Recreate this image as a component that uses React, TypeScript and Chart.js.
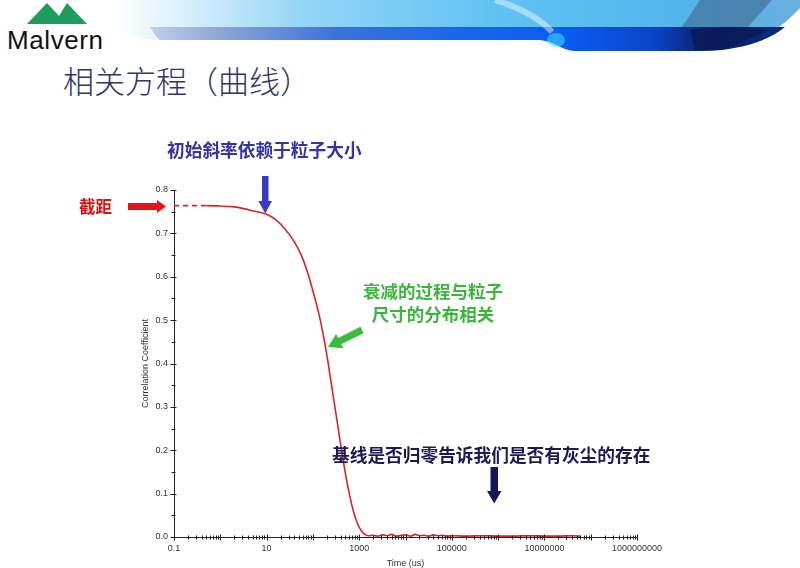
import React, { useEffect, useRef } from 'react';
import { Chart, registerables } from 'chart.js';

Chart.register(...registerables);

// ---- data ----
const timeUs = [
  0.1, 0.2, 0.3, 0.5,
  1, 2, 3.2, 5,
  10, 16, 25, 40, 56, 80,
  100, 126, 158, 200, 251, 316, 398, 501, 631, 794,
  1000, 1259, 1585, 2000, 2500, 3200, 4000, 5000, 6300, 8000,
  10000, 13000, 16000, 20000, 25000, 32000, 40000, 50000, 63000, 80000,
  1e5, 2e5, 5e5, 1e6, 2e6, 5e6, 1e7, 2e7, 4e7, 6e7,
];
const correlation = [
  0.764, 0.764, 0.764, 0.764,
  0.763, 0.761, 0.757, 0.752,
  0.744, 0.731, 0.71, 0.68, 0.65, 0.604,
  0.567, 0.527, 0.48, 0.42, 0.352, 0.283, 0.213, 0.148, 0.093, 0.05,
  0.022, 0.008, 0.003, 0.004, 0.002, 0.005, 0.003, 0.006, 0.002, 0.004,
  0.005, 0.002, 0.006, 0.003, 0.004, 0.002, 0.005, 0.003, 0.004, 0.002,
  0.003, 0.002, 0.003, 0.002, 0.002, 0.003, 0.002, 0.002, 0.003, 0.002,
];
const dashedUntilUs = 0.5;

const xLabelValues = [0.1, 10, 1000, 100000, 10000000, 1000000000];
const xTickLabels = ['0.1', '10', '1000', '100000', '10000000', '1000000000'];
const yLabelValues = [0, 0.1, 0.2, 0.3, 0.4, 0.5, 0.6, 0.7, 0.8];
const yTickLabels = ['0.0', '0.1', '0.2', '0.3', '0.4', '0.5', '0.6', '0.7', '0.8'];

const xTitle = 'Time (us)';
const yTitle = 'Correlation Coefficient';

const AXIS_FONT = '"Liberation Sans", Arial, sans-serif';
const CJK = '"Noto Sans CJK SC", sans-serif';

const isDecade = (v: number) => Math.abs(Math.log10(v) - Math.round(Math.log10(v))) < 1e-6;
const isTenth = (v: number) => Math.abs(v * 10 - Math.round(v * 10)) < 1e-6;

const crossTicks = {
  id: 'crossTicks',
  afterDraw(chart: any) {
    const { ctx } = chart;
    const x = chart.scales.x;
    const y = chart.scales.y;
    ctx.save();
    ctx.strokeStyle = '#222';
    ctx.lineWidth = 1;
    ctx.beginPath();
    const x0 = Math.round(x.top) + 0.5;
    x.ticks.forEach((t: any) => {
      const px = Math.round(x.getPixelForValue(t.value)) + 0.5;
      const len = isDecade(t.value) ? 3 : 2;
      ctx.moveTo(px, x0 - len);
      ctx.lineTo(px, x0 + len);
    });
    const y0 = Math.round(y.right) - 0.5;
    y.ticks.forEach((t: any) => {
      const py = Math.round(y.getPixelForValue(t.value)) + 0.5;
      const len = isTenth(t.value) ? 3 : 2;
      ctx.moveTo(y0 - len, py);
      ctx.lineTo(y0 + len, py);
    });
    ctx.stroke();
    ctx.restore();
  },
};

export default function App() {
  const ref = useRef<HTMLCanvasElement>(null);

  useEffect(() => {
    const canvas = ref.current;
    if (!canvas) return;
    const chart = new Chart(canvas, {
      type: 'line',
      data: {
        datasets: [
          {
            data: timeUs.map((t, i) => ({ x: t, y: correlation[i] })),
            borderColor: '#e22222',
            borderWidth: 1.6,
            pointRadius: 0,
            fill: false,
            cubicInterpolationMode: 'monotone',
            segment: {
              borderDash: (ctx: any) => (ctx.p1.parsed.x <= dashedUntilUs ? [5, 4] : undefined),
            },
          } as any,
        ],
      },
      options: {
        responsive: false,
        animation: false,
        events: [],
        layout: { padding: { left: 140, right: 163, top: 190, bottom: 0 } },
        plugins: { legend: { display: false }, tooltip: { enabled: false } },
        scales: {
          x: {
            type: 'logarithmic',
            min: 0.1,
            max: 1e9,
            afterBuildTicks: (s: any) => {
              const ticks: any[] = [];
              for (let e = -1; e <= 8; e++) {
                for (let k = 1; k <= 9; k++) ticks.push({ value: k * Math.pow(10, e) });
              }
              ticks.push({ value: 1e9 });
              s.ticks = ticks;
            },
            afterFit: (s: any) => {
              s.height = 31;
            },
            grid: { display: false, drawTicks: false },
            border: { display: true, color: '#222', width: 1 },
            ticks: {
              autoSkip: false,
              maxRotation: 0,
              padding: 6,
              color: '#333',
              font: { family: AXIS_FONT, size: 9 },
              callback: (v: any) => {
                const i = xLabelValues.findIndex((l) => Math.abs(l - v) / l < 1e-6);
                return i >= 0 ? xTickLabels[i] : '';
              },
            },
            title: {
              display: true,
              text: xTitle,
              color: '#333',
              font: { family: AXIS_FONT, size: 9 },
              padding: { top: 0, bottom: -1 },
            },
          },
          y: {
            type: 'linear',
            min: 0,
            max: 0.8,
            afterBuildTicks: (s: any) => {
              const ticks: any[] = [];
              for (let i = 0; i <= 16; i++) ticks.push({ value: i * 0.05 });
              s.ticks = ticks;
            },
            afterFit: (s: any) => {
              s.width = 34;
            },
            grid: { display: false, drawTicks: false },
            border: { display: true, color: '#222', width: 1 },
            ticks: {
              autoSkip: false,
              padding: 6,
              color: '#333',
              font: { family: AXIS_FONT, size: 9 },
              callback: (v: any) => {
                const i = yLabelValues.findIndex((l) => Math.abs(l - v) < 1e-6);
                return i >= 0 ? yTickLabels[i] : '';
              },
            },
            title: {
              display: true,
              text: yTitle,
              color: '#333',
              font: { family: AXIS_FONT, size: 9 },
              padding: 0,
            },
          },
        },
      } as any,
      plugins: [crossTicks],
    });
    return () => chart.destroy();
  }, []);

  const abs = (o: any) => ({ position: 'absolute', whiteSpace: 'nowrap', lineHeight: 1, ...o }) as React.CSSProperties;

  return (
    <div style={{ position: 'fixed', left: 0, top: 0, width: 800, height: 568, background: '#fff', overflow: 'hidden' }}>
      {/* header banner */}
      <svg width={800} height={60} style={{ position: 'absolute', left: 0, top: 0 }}>
        <defs>
          <linearGradient id="sky" gradientUnits="userSpaceOnUse" x1="110" y1="0" x2="800" y2="0">
            <stop offset="0" stopColor="#ffffff" />
            <stop offset="0.1" stopColor="#dcf1fb" />
            <stop offset="0.28" stopColor="#93d5f6" />
            <stop offset="0.55" stopColor="#62c3f3" />
            <stop offset="0.82" stopColor="#52b5ec" />
            <stop offset="1" stopColor="#6aaede" />
          </linearGradient>
          <linearGradient id="band" gradientUnits="userSpaceOnUse" x1="140" y1="0" x2="800" y2="0">
            <stop offset="0" stopColor="#c8d4ea" />
            <stop offset="0.12" stopColor="#8fa6d6" />
            <stop offset="0.3" stopColor="#3a72da" />
            <stop offset="0.5" stopColor="#1766ec" />
            <stop offset="0.64" stopColor="#0b5cf2" />
            <stop offset="0.78" stopColor="#0a45c8" />
            <stop offset="0.86" stopColor="#0a1f6a" />
            <stop offset="1" stopColor="#0d2a80" />
          </linearGradient>
        </defs>
        <path d="M110,0 H800 V8 C770,40 740,51 700,51 L575,51 C560,50 555,41 540,40 L160,40 C140,40 125,32 110,27 Z" fill="url(#sky)" />
        <path d="M150,27 L785,27 C770,40 740,51 700,51 L575,51 C560,50 555,41 540,40 L160,40 C155,36 152,30 150,27 Z" fill="url(#band)" />
        <path d="M495,0 C520,8 540,18 552,32" stroke="#ffffff" strokeOpacity={0.45} strokeWidth={6} fill="none" />
        <ellipse cx={556} cy={40} rx={9} ry={7} fill="#3fe4ff" opacity={0.55} />
        <polygon points="700,0 772,0 748,27 682,27" fill="#3d5f85" opacity={0.55} />
        <polygon points="690,30 742,27 770,30 722,50 695,50" fill="#0b1a5a" opacity={0.85} />
      </svg>

      {/* logo */}
      <svg width={100} height={30} style={{ position: 'absolute', left: 0, top: 0 }}>
        <polygon points="27,24 47,3 59,16 67,3 87,24" fill="#1f9d5c" />
      </svg>
      <div style={abs({ left: 7, top: 27, fontFamily: AXIS_FONT, fontSize: 26, letterSpacing: 0.6, color: '#111' })}>Malvern</div>

      {/* title */}
      <div style={abs({ left: 63, top: 64, fontFamily: CJK, fontSize: 31, fontWeight: 300, color: '#2e3568' })}>相关方程（曲线）</div>

      {/* chart */}
      <canvas ref={ref} width={800} height={568} style={{ position: 'absolute', left: 0, top: 0, width: 800, height: 568 }} />

      {/* annotations */}
      <svg width={800} height={568} style={{ position: 'absolute', left: 0, top: 0, pointerEvents: 'none' }}>
        <polygon points="128,203 157,203 157,200 166,206.5 157,213 157,210 128,210" fill="#e8141c" />
        <polygon points="262,176 268.5,176 268.5,201 272,201 265.2,213.5 258.4,201 262,201" fill="#3a3ac8" />
        <g transform="translate(362,330) rotate(153.43)">
          <polygon points="0,-3.5 25,-3.5 25,-8 38,0 25,8 25,3.5 0,3.5" fill="#3cbc3c" />
        </g>
        <polygon points="490.5,467 498,467 498,491 501.5,491 494.2,503.5 487,491 490.5,491" fill="#15155e" />
      </svg>

      <div style={abs({ left: 167, top: 141, fontFamily: CJK, fontSize: 17.7, fontWeight: 700, color: '#3434a4' })}>初始斜率依赖于粒子大小</div>
      <div style={abs({ left: 79, top: 198, fontFamily: CJK, fontSize: 16.5, fontWeight: 700, color: '#e01010' })}>截距</div>
      <div style={abs({ left: 333, top: 278.5, width: 200, textAlign: 'center', fontFamily: CJK, fontSize: 17.5, lineHeight: '23px', fontWeight: 700, color: '#38b838' })}>
        衰减的过程与粒子
        <br />
        尺寸的分布相关
      </div>
      <div style={abs({ left: 332, top: 446, fontFamily: CJK, fontSize: 17.7, fontWeight: 700, color: '#1a1a55' })}>基线是否归零告诉我们是否有灰尘的存在</div>
    </div>
  );
}
